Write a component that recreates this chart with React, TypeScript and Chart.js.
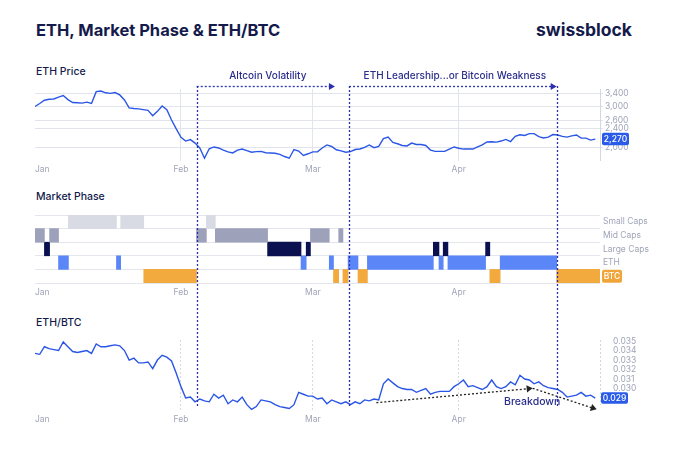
import { useEffect, useRef } from 'react';
import { Chart, registerables } from 'chart.js';

Chart.register(...registerables);

const FONT = 'Inter, "Noto Sans", sans-serif';
const NAVY = '#141a4b';
const MARKER = '#2b2fae';
const LINE = '#2a56e6';
const TICK = '#a0a4b7';
const GRID = '#e1e4ec';

// x axis: day of year (0 = Jan 1)
const monthTicks = [0, 31, 59, 90, 120];
const monthLabels = ['Jan', 'Feb', 'Mar', 'Apr', ''];

const ethPrice = [
  2990, 3080, 3180, 3210, 3220, 3280, 3330, 3200, 3110, 3100,
  3090, 3120, 3080, 3460, 3480, 3420, 3400, 3430, 3350, 3190,
  2950, 2930, 2920, 2900, 2880, 2730, 2850, 3005, 2900, 2620,
  2400, 2210, 2130, 2160, 2088, 1990, 1800, 1975, 2010, 1990,
  1950, 1915, 1895, 1950, 1970, 1940, 1910, 1920, 1925, 1900,
  1895, 1890, 1870, 1830, 1800, 1960, 1930, 1850, 1880, 1915,
  1915, 1990, 2050, 2020, 1956, 1935, 1910, 1920, 1960, 1970,
  2000, 2050, 1995, 2020, 2180, 2215, 2100, 2075, 2040, 2030,
  2088, 2060, 2060, 2040, 1950, 1924, 1924, 1924, 1970, 2010,
  1985, 1969, 1969, 1969, 2010, 2050, 2110, 2115, 2108, 2130,
  2165, 2120, 2230, 2264, 2250, 2290, 2290, 2225, 2195, 2214,
  2270, 2260, 2230, 2214, 2240, 2260, 2192, 2192, 2150, 2171,
];

const ethBtc = [
  0.0337, 0.0336, 0.0344, 0.0342, 0.0341, 0.034, 0.0349, 0.0344, 0.0339, 0.0338,
  0.0339, 0.034, 0.0337, 0.0347, 0.0344, 0.0344, 0.0345, 0.0346, 0.0345, 0.034,
  0.033, 0.0332, 0.0327, 0.0327, 0.0328, 0.0321, 0.033, 0.0335, 0.0333, 0.0329,
  0.0316, 0.0302, 0.029, 0.0291, 0.0286, 0.0289, 0.0287, 0.0286, 0.0294, 0.029,
  0.0293, 0.0284, 0.0288, 0.0286, 0.0291, 0.0283, 0.0278, 0.0281, 0.0288, 0.0287,
  0.0286, 0.0283, 0.0281, 0.028, 0.0279, 0.0283, 0.0296, 0.0294, 0.0292, 0.0292,
  0.0289, 0.029, 0.0284, 0.0288, 0.0286, 0.0284, 0.0286, 0.0283, 0.0286, 0.0284,
  0.0288, 0.0287, 0.0289, 0.0288, 0.0305, 0.031, 0.0306, 0.0302, 0.03, 0.0299,
  0.0299, 0.0296, 0.0298, 0.03, 0.0294, 0.0296, 0.0297, 0.0297, 0.0297, 0.0302,
  0.0305, 0.0309, 0.0302, 0.0303, 0.0301, 0.0299, 0.0302, 0.0309, 0.0302, 0.03,
  0.0302, 0.0307, 0.0304, 0.0314, 0.031, 0.0309, 0.0305, 0.0307, 0.0303, 0.0301,
  0.03, 0.0299, 0.0296, 0.0291, 0.0292, 0.0293, 0.0296, 0.0292, 0.0293, 0.029,
];

const priceTicks = [2000, 2400, 2600, 3000, 3400];
const ratioTicks = [0.029, 0.03, 0.031, 0.032, 0.033, 0.034, 0.035];
const lastPriceLabel = '2,270';
const lastRatioLabel = '0.029';

const phaseRows = ['Small Caps', 'Mid Caps', 'Large Caps', 'ETH', 'BTC'];
const phaseColors = ['#d9dbe4', '#9da1ba', '#0b1150', '#5b86f8', '#f2a93e'];
const smallCapsSpans = [[7.1, 17.3], [18.2, 23.1], [36.4, 38.3]];
const midCapsSpans = [[0, 2.0], [3.1, 5.0], [34.3, 36.4], [38.3, 49.4], [58.5, 62.5], [64.5, 65.4]];
const largeCapsSpans = [[2.0, 3.1], [49.4, 56.5], [57.6, 58.5], [84.6, 85.8], [86.7, 87.7], [95.7, 96.6]];
const ethSpans = [[5.0, 7.1], [17.3, 18.2], [56.5, 57.6], [62.5, 63.4], [66.5, 68.6], [70.6, 84.6], [85.8, 86.7], [87.7, 95.7], [98.8, 110.8]];
const btcSpans = [[23.1, 34.3], [63.4, 64.5], [65.4, 66.5], [68.6, 70.6], [96.6, 98.8], [110.8, 120]];
const phaseSpans = [smallCapsSpans, midCapsSpans, largeCapsSpans, ethSpans, btcSpans];

// regime markers (days)
const phaseMarkers = [34.35, 66.7, 110.8];
const regimeLabels = ['Altcoin Volatility', 'ETH Leadership...or Bitcoin Weakness'];
const regimeStarts = [34.35, 66.7];
const regimeEnds = [63.7, 110.8];
const breakdownPath = [[72.5, 0.02851], [105.7, 0.03002], [119.3, 0.02781]];
const breakdownLabel = 'Breakdown';
const breakdownLabelAt = [105.6, 0.02859];

const xAxis = (showGrid: boolean, dotted: boolean, gridColor: string, padding = 4) => ({
  type: 'linear',
  min: 0,
  max: 120,
  afterBuildTicks: (s: any) => {
    s.ticks = monthTicks.map((v) => ({ value: v }));
  },
  afterFit: (s: any) => {
    s.height = 16;
  },
  ticks: {
    autoSkip: false,
    maxRotation: 0,
    align: 'inner',
    padding,
    color: TICK,
    font: { size: 8.5, family: FONT },
    callback: (v: any) => {
      const i = monthTicks.indexOf(Number(v));
      return i >= 0 ? monthLabels[i] : '';
    },
  },
  grid: {
    display: showGrid,
    drawTicks: false,
    lineWidth: 1,
    color: (ctx: any) =>
      ctx.tick && (ctx.tick.value === 0 || ctx.tick.value === 120) ? 'rgba(0,0,0,0)' : gridColor,
  },
  border: { display: false, dash: dotted ? [2, 2] : [] },
});

function drawMarkers(chart: any, top: number, bottom: number) {
  const { ctx } = chart;
  const xs = chart.scales.x;
  ctx.save();
  ctx.strokeStyle = MARKER;
  ctx.lineWidth = 1.3;
  ctx.setLineDash([2, 2]);
  for (const d of phaseMarkers) {
    const px = Math.round(xs.getPixelForValue(d)) + 0.5;
    ctx.beginPath();
    ctx.moveTo(px, top);
    ctx.lineTo(px, bottom);
    ctx.stroke();
  }
  ctx.restore();
}

function drawBadge(ctx: any, x: number, y: number, w: number, h: number, fill: string, text: string) {
  ctx.save();
  ctx.fillStyle = fill;
  ctx.beginPath();
  ctx.roundRect(x, y - h / 2, w, h, 2);
  ctx.fill();
  ctx.fillStyle = '#ffffff';
  ctx.font = `500 8.5px ${FONT}`;
  ctx.textAlign = 'center';
  ctx.textBaseline = 'middle';
  ctx.fillText(text, x + w / 2, y + 0.5);
  ctx.restore();
}

function arrowHead(ctx: any, x1: number, y1: number, x2: number, y2: number, size: number) {
  const a = Math.atan2(y2 - y1, x2 - x1);
  ctx.beginPath();
  ctx.moveTo(x2, y2);
  ctx.lineTo(x2 - size * Math.cos(a) + (size * 0.6) * Math.sin(a), y2 - size * Math.sin(a) - (size * 0.6) * Math.cos(a));
  ctx.lineTo(x2 - size * Math.cos(a) - (size * 0.6) * Math.sin(a), y2 - size * Math.sin(a) + (size * 0.6) * Math.cos(a));
  ctx.closePath();
  ctx.fill();
}

const pricePlugin = {
  id: 'priceAnno',
  afterDraw(chart: any) {
    const { ctx } = chart;
    const xs = chart.scales.x;
    const ys = chart.scales.y;
    const top = 26;
    drawMarkers(chart, top, chart.height);
    ctx.save();
    ctx.strokeStyle = MARKER;
    ctx.fillStyle = MARKER;
    ctx.lineWidth = 1.3;
    regimeStarts.forEach((s, i) => {
      const x0 = xs.getPixelForValue(s);
      const x1 = xs.getPixelForValue(regimeEnds[i]);
      ctx.setLineDash([2, 2]);
      ctx.beginPath();
      ctx.moveTo(x0, top + 0.5);
      ctx.lineTo(x1 - 5, top + 0.5);
      ctx.stroke();
      ctx.setLineDash([]);
      arrowHead(ctx, x0, top + 0.5, x1, top + 0.5, 6);
      ctx.font = `500 10px ${FONT}`;
      ctx.textAlign = 'center';
      ctx.textBaseline = 'middle';
      ctx.fillStyle = '#2b2d8c';
      ctx.fillText(regimeLabels[i], (x0 + x1) / 2 + 2, 16);
      ctx.fillStyle = MARKER;
    });
    ctx.restore();
    const last = ethPrice[ethPrice.length - 1];
    drawBadge(ctx, chart.chartArea.right + 2, ys.getPixelForValue(last), 27, 12.5, '#2a5ae8', lastPriceLabel);
  },
};

const phasePlugin = {
  id: 'phaseAnno',
  afterDraw(chart: any) {
    drawMarkers(chart, 0, chart.height);
    const ys = chart.scales.y;
    drawBadge(chart.ctx, chart.chartArea.right + 2, ys.getPixelForValue(phaseRows.indexOf('BTC')), 20, 13, '#f0a53b', 'BTC');
  },
};

const ratioPlugin = {
  id: 'ratioAnno',
  afterDraw(chart: any) {
    const { ctx, chartArea } = chart;
    const xs = chart.scales.x;
    const ys = chart.scales.y;
    drawMarkers(chart, 0, 108);
    // dotted right axis
    ctx.save();
    ctx.strokeStyle = '#d3d6e0';
    ctx.lineWidth = 1;
    ctx.setLineDash([2, 2]);
    ctx.beginPath();
    ctx.moveTo(Math.round(chartArea.right) + 0.5, chartArea.top);
    ctx.lineTo(Math.round(chartArea.right) + 0.5, chartArea.bottom - 5);
    ctx.stroke();
    // breakdown arrows
    ctx.strokeStyle = '#222222';
    ctx.fillStyle = '#222222';
    ctx.lineWidth = 1.3;
    for (let i = 0; i < breakdownPath.length - 1; i++) {
      const x0 = xs.getPixelForValue(breakdownPath[i][0]);
      const y0 = ys.getPixelForValue(breakdownPath[i][1]);
      const x1 = xs.getPixelForValue(breakdownPath[i + 1][0]);
      const y1 = ys.getPixelForValue(breakdownPath[i + 1][1]);
      const a = Math.atan2(y1 - y0, x1 - x0);
      ctx.setLineDash([2, 2]);
      ctx.beginPath();
      ctx.moveTo(x0, y0);
      ctx.lineTo(x1 - 5 * Math.cos(a), y1 - 5 * Math.sin(a));
      ctx.stroke();
      ctx.setLineDash([]);
      arrowHead(ctx, x0, y0, x1, y1, 6);
    }
    ctx.font = `500 10.5px ${FONT}`;
    ctx.fillStyle = '#2b2d8c';
    ctx.textAlign = 'center';
    ctx.textBaseline = 'middle';
    ctx.fillText(breakdownLabel, xs.getPixelForValue(breakdownLabelAt[0]), ys.getPixelForValue(breakdownLabelAt[1]));
    ctx.restore();
    const last = ethBtc[ethBtc.length - 1];
    drawBadge(ctx, chartArea.right + 1, ys.getPixelForValue(last), 27, 11.5, '#2a5ae8', lastRatioLabel);
  },
};

const baseOptions = {
  animation: false,
  responsive: false,
  events: [],
  plugins: { legend: { display: false }, tooltip: { enabled: false } },
};

export default function App() {
  const priceRef = useRef<HTMLCanvasElement>(null);
  const phaseRef = useRef<HTMLCanvasElement>(null);
  const ratioRef = useRef<HTMLCanvasElement>(null);

  useEffect(() => {
    Chart.defaults.font.family = FONT;
    const charts: Chart[] = [];

    charts.push(
      new Chart(priceRef.current as HTMLCanvasElement, {
        type: 'line',
        data: {
          datasets: [
            {
              data: ethPrice.map((v, i) => ({ x: i, y: v })),
              borderColor: LINE,
              borderWidth: 1.4,
              pointRadius: 0,
              tension: 0,
            },
          ],
        },
        options: {
          ...baseOptions,
          layout: { padding: { left: 35, right: 0, top: 29, bottom: 3.5 } },
          scales: {
            x: xAxis(true, false, GRID),
            y: {
              type: 'logarithmic',
              position: 'right',
              min: 1760,
              max: 3550,
              afterBuildTicks: (s: any) => {
                s.ticks = priceTicks.map((v) => ({ value: v }));
              },
              afterFit: (s: any) => {
                s.width = 80;
              },
              ticks: {
                autoSkip: false,
                padding: 2,
                color: TICK,
                font: { size: 8.5, family: FONT },
                callback: (v: any) => Number(v).toLocaleString('en-US'),
              },
              grid: { color: GRID, drawTicks: true, tickLength: 3 },
              border: { display: true, color: '#d4d7e0' },
            },
          },
        } as any,
        plugins: [pricePlugin],
      })
    );

    charts.push(
      new Chart(phaseRef.current as HTMLCanvasElement, {
        type: 'bar',
        data: {
          labels: phaseRows,
          datasets: phaseRows.map((name, k) => ({
            label: name,
            data: phaseSpans[k].map(([s, e]) => ({ x: [s, e], y: name })),
            backgroundColor: phaseColors[k],
            borderWidth: 0,
            barPercentage: 1,
            categoryPercentage: 1,
            grouped: false,
          })),
        } as any,
        options: {
          ...baseOptions,
          indexAxis: 'y',
          layout: { padding: { left: 35, right: 0, top: 35, bottom: 1 } },
          scales: {
            x: xAxis(false, false, GRID, 4.5),
            y: {
              type: 'category',
              position: 'right',
              offset: true,
              afterFit: (s: any) => {
                s.width = 80;
              },
              ticks: {
                autoSkip: false,
                padding: 3,
                color: TICK,
                font: { size: 8.5, family: FONT },
                callback: (_v: any, i: number) => (phaseRows[i] === 'BTC' ? '' : phaseRows[i]),
              },
              grid: { offset: true, color: '#e4e6ee', drawTicks: false },
              border: { display: false },
            },
          },
        } as any,
        plugins: [phasePlugin],
      })
    );

    charts.push(
      new Chart(ratioRef.current as HTMLCanvasElement, {
        type: 'line',
        data: {
          datasets: [
            {
              data: ethBtc.map((v, i) => ({ x: i, y: v })),
              borderColor: LINE,
              borderWidth: 1.4,
              pointRadius: 0,
              tension: 0,
            },
          ],
        },
        options: {
          ...baseOptions,
          layout: { padding: { left: 35, right: 0, top: 40, bottom: 38 } },
          scales: {
            x: xAxis(true, true, '#d6d9e2'),
            y: {
              type: 'linear',
              position: 'right',
              min: 0.02774,
              max: 0.03511,
              afterBuildTicks: (s: any) => {
                s.ticks = ratioTicks.map((v) => ({ value: v }));
              },
              afterFit: (s: any) => {
                s.width = 80;
              },
              ticks: {
                autoSkip: false,
                padding: 5,
                color: TICK,
                font: { size: 8.5, family: FONT },
                callback: (v: any) => {
                  const t = Number(v).toFixed(3);
                  return t === lastRatioLabel ? '' : t;
                },
              },
              grid: { display: false },
              border: { display: false },
            },
          },
        } as any,
        plugins: [ratioPlugin],
      })
    );

    return () => charts.forEach((c) => c.destroy());
  }, []);

  const text = (s: string, left: number, top: number, size: number, weight: number, lh: number) => (
    <div
      style={{
        position: 'absolute',
        left,
        top,
        fontSize: size,
        fontWeight: weight,
        lineHeight: `${lh}px`,
        color: NAVY,
        fontFamily: FONT,
        whiteSpace: 'nowrap',
      }}
    >
      {s}
    </div>
  );

  return (
    <div style={{ position: 'absolute', left: 0, top: 0, width: 680, height: 464, background: '#fff', overflow: 'hidden' }}>
      {text('ETH, Market Phase & ETH/BTC', 36, 20, 16.5, 700, 20)}
      {text('swissblock', 536, 19, 17.5, 700, 22)}
      {text('ETH Price', 36, 65, 10.5, 500, 14)}
      {text('Market Phase', 36, 190, 10.5, 500, 14)}
      {text('ETH/BTC', 36, 316, 10.5, 500, 14)}
      <canvas ref={priceRef} width={680} height={120} style={{ position: 'absolute', left: 0, top: 60 }} />
      <canvas ref={phaseRef} width={680} height={120} style={{ position: 'absolute', left: 0, top: 180 }} />
      <canvas ref={ratioRef} width={680} height={164} style={{ position: 'absolute', left: 0, top: 300 }} />
    </div>
  );
}
